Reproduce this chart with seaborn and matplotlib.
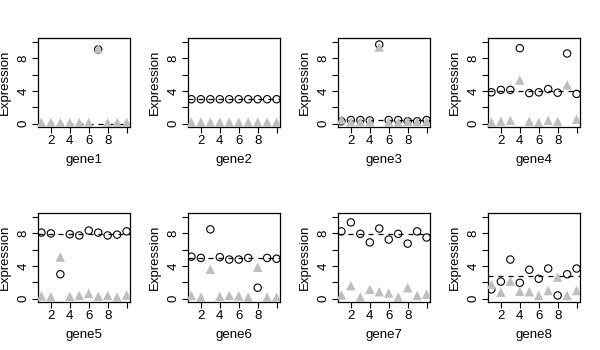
import numpy as np
import pandas as pd
import matplotlib
matplotlib.use("Agg")
import matplotlib.pyplot as plt
import seaborn as sns

sns.set_style("white")
plt.rcParams['font.family'] = ['Liberation Sans', 'DejaVu Sans']

genes = ["gene1", "gene2", "gene3", "gene4", "gene5", "gene6", "gene7", "gene8"]
samples = [1, 2, 3, 4, 5, 6, 7, 8, 9, 10]

nan = float("nan")
circles = {
    "gene1": [nan, nan, nan, nan, nan, nan, 9.1, nan, nan, nan],
    "gene2": [3.0, 3.0, 3.0, 3.0, 3.0, 3.0, 3.0, 3.0, 3.0, 3.0],
    "gene3": [0.3, 0.45, 0.45, 0.4, 9.7, 0.45, 0.45, 0.3, 0.3, 0.45],
    "gene4": [3.85, 4.15, 4.15, 9.25, 3.75, 3.85, 4.25, 3.8, 8.6, 3.65],
    "gene5": [8.1, 8.0, 3.0, 7.9, 7.75, 8.35, 8.1, 7.75, 7.85, 8.25],
    "gene6": [5.15, 5.0, 8.5, 5.1, 4.8, 4.8, 5.0, 1.35, 5.0, 4.9],
    "gene7": [8.25, 9.35, 7.95, 6.9, 8.6, 7.25, 7.95, 6.75, 8.25, 7.5],
    "gene8": [1.15, 2.1, 4.8, 1.95, 3.55, 2.45, 3.7, 0.4, 3.0, 3.7],
}
triangles = {
    "gene1": [0.15, 0.15, 0.15, 0.15, 0.15, 0.15, 9.2, 0.15, 0.15, 0.15],
    "gene2": [0.2, 0.2, 0.2, 0.2, 0.2, 0.2, 0.2, 0.2, 0.2, 0.2],
    "gene3": [0.5, 0.25, 0.25, 0.25, 9.4, 0.2, 0.2, 0.3, 0.25, 0.3],
    "gene4": [0.2, 0.3, 0.4, 5.35, 0.3, 0.15, 0.4, 0.3, 4.75, 0.55],
    "gene5": [0.35, 0.25, 5.1, 0.3, 0.4, 0.65, 0.3, 0.4, 0.2, 0.45],
    "gene6": [0.4, 0.2, 3.6, 0.3, 0.4, 0.35, 0.2, 3.85, 0.2, 0.2],
    "gene7": [0.45, 1.6, 0.2, 1.15, 0.85, 0.7, 0.2, 1.35, 0.4, 0.55],
    "gene8": [1.75, 0.8, 2.15, 0.9, 0.85, 0.4, 1.0, 2.65, 0.4, 1.0],
}
levels = {"gene1": 0.0, "gene2": 3.0, "gene3": 0.4, "gene4": 4.0,
          "gene5": 7.95, "gene6": 5.0, "gene7": 7.9, "gene8": 2.8}

x_ticks = [2, 4, 6, 8, 10]
x_ticklabels = ["2", "4", "6", "8", ""]
y_ticks = [0, 2, 4, 6, 8, 10]
y_ticklabels = ["0", "", "4", "", "8", ""]

W, H = 600, 350
fig = plt.figure(figsize=(6, 3.5), dpi=100)

for i, g in enumerate(genes):
    row, col = divmod(i, 4)
    left = 38 + 150 * col
    top = 38 if row == 0 else 213
    ax = fig.add_axes([left / W, (H - top - 89) / H, 92 / W, 89 / H])
    df = pd.DataFrame({"sample": samples, "circ": circles[g], "tri": triangles[g]})
    sns.scatterplot(data=df.dropna(subset=["circ"]), x="sample", y="circ", ax=ax, marker="o",
                    facecolor="none", edgecolor="black", linewidth=0.8, s=28, zorder=3)
    sns.scatterplot(data=df, x="sample", y="tri", ax=ax, marker="^",
                    color="#BEBEBE", edgecolor="none", linewidth=0, s=46, zorder=4)
    ax.axhline(levels[g], color="black", lw=0.9, ls=(0, (4, 4)), zorder=2)
    ax.set_xlim(0.64, 10.36)
    ax.set_ylim(-0.4, 10.5)
    ax.set_xticks(x_ticks)
    ax.set_xticklabels(x_ticklabels)
    ax.set_yticks(y_ticks)
    ax.set_yticklabels(y_ticklabels, rotation=90, va="center")
    ax.tick_params(axis="both", direction="out", length=4, width=0.8,
                   color="black", labelsize=9.5, pad=2, labelcolor="black")
    ax.tick_params(left=True, bottom=True)
    for sp in ax.spines.values():
        sp.set_visible(True)
        sp.set_color("black")
        sp.set_linewidth(0.9)
    ax.set_xlabel(g, fontsize=9.5, color="black", labelpad=5)
    ax.set_ylabel("Expression", fontsize=9.5, color="black", labelpad=5)
    ax.grid(False)

fig.savefig("out.png", dpi=100, facecolor="white")
